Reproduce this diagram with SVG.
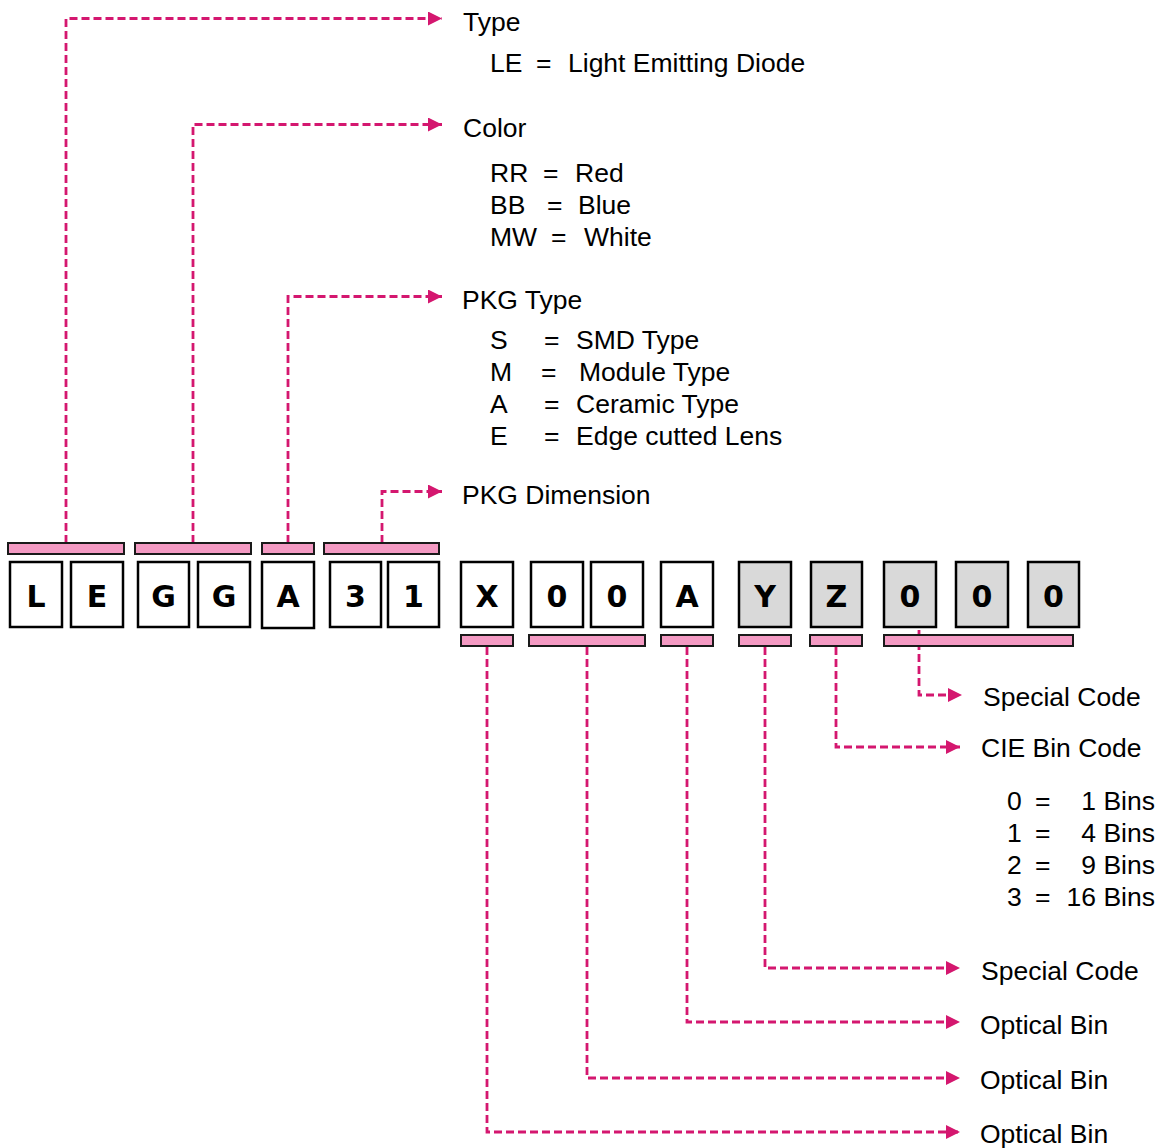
<svg xmlns="http://www.w3.org/2000/svg" width="1165" height="1148" viewBox="0 0 1165 1148">
<defs>
<marker id="ah" markerWidth="14" markerHeight="14" refX="14" refY="7" orient="auto" markerUnits="userSpaceOnUse">
<path d="M0,0 L14,7 L0,14 Z" fill="#d4176f"/>
</marker>
<style>
.box{fill:#ffffff;stroke:#000;stroke-width:2.5}
.gbox{fill:#d9d9d9;stroke:#000;stroke-width:2.5}
.bar{fill:#f49ac3;stroke:#1a1a1a;stroke-width:2}
.ch{font-family:"DejaVu Sans",Verdana,sans-serif;font-weight:bold;font-size:30px;text-anchor:middle;fill:#000}
.lbl{font-family:"Liberation Sans",Arial,sans-serif;font-size:26.5px;fill:#000}
.con{fill:none;stroke:#d4176f;stroke-width:2.8;stroke-dasharray:8,4;marker-end:url(#ah)}
.end{text-anchor:end}
</style>
</defs>
<rect width="1165" height="1148" fill="#fff"/>
<g id="connectors">
<path class="con" d="M66,543 V18.5 H442"/>
<path class="con" d="M193,543 V124.5 H442"/>
<path class="con" d="M288,543 V296.5 H442"/>
<path class="con" d="M382,543 V491.5 H442"/>
<path class="con" d="M487,647 V1132 H960"/>
<path class="con" d="M587,647 V1078 H960"/>
<path class="con" d="M687,647 V1022 H960"/>
<path class="con" d="M765,647 V968 H960"/>
<path class="con" d="M836,647 V747 H960"/>
<path class="con" d="M919,618 V695 H962"/>
</g>
<g id="bars-top">
<rect class="bar" x="8" y="543" width="116" height="11"/>
<rect class="bar" x="135" y="543" width="116" height="11"/>
<rect class="bar" x="262" y="543" width="52" height="11"/>
<rect class="bar" x="324" y="543" width="115" height="11"/>
</g>
<g id="bars-bottom">
<rect class="bar" x="461" y="635" width="52" height="11"/>
<rect class="bar" x="529" y="635" width="116" height="11"/>
<rect class="bar" x="661" y="635" width="52" height="11"/>
<rect class="bar" x="739" y="635" width="52" height="11"/>
<rect class="bar" x="810" y="635" width="52" height="11"/>
<rect class="bar" x="884" y="635" width="189" height="11"/>
</g>
<g id="box-L"><rect class="box" x="10" y="562" width="52" height="65"/><text class="ch" x="36" y="607">L</text></g>
<g id="box-E"><rect class="box" x="71" y="562" width="52" height="65"/><text class="ch" x="97" y="607">E</text></g>
<g id="box-G1"><rect class="box" x="138" y="562" width="51" height="65"/><text class="ch" x="163.5" y="607">G</text></g>
<g id="box-G2"><rect class="box" x="198" y="562" width="52" height="65"/><text class="ch" x="224" y="607">G</text></g>
<g id="box-A1"><rect class="box" x="262" y="562" width="52" height="66"/><text class="ch" x="288" y="607">A</text></g>
<g id="box-3"><rect class="box" x="330" y="562" width="51" height="65"/><text class="ch" x="355.5" y="607">3</text></g>
<g id="box-1"><rect class="box" x="388" y="562" width="51" height="65"/><text class="ch" x="413.5" y="607">1</text></g>
<g id="box-X"><rect class="box" x="461" y="562" width="52" height="65"/><text class="ch" x="487" y="607">X</text></g>
<g id="box-01"><rect class="box" x="531" y="562" width="52" height="65"/><text class="ch" x="557" y="607">0</text></g>
<g id="box-02"><rect class="box" x="591" y="562" width="52" height="65"/><text class="ch" x="617" y="607">0</text></g>
<g id="box-A2"><rect class="box" x="661" y="562" width="52" height="65"/><text class="ch" x="687" y="607">A</text></g>
<g id="box-Y"><rect class="gbox" x="739" y="562" width="52" height="65"/><text class="ch" x="765" y="607">Y</text></g>
<g id="box-Z"><rect class="gbox" x="811" y="562" width="51" height="65"/><text class="ch" x="836.5" y="607">Z</text></g>
<g id="box-03"><rect class="gbox" x="884" y="562" width="52" height="65"/><text class="ch" x="910" y="607">0</text></g>
<g id="box-04"><rect class="gbox" x="956" y="562" width="52" height="65"/><text class="ch" x="982" y="607">0</text></g>
<g id="box-05"><rect class="gbox" x="1028" y="562" width="51" height="65"/><text class="ch" x="1053.5" y="607">0</text></g>
<g id="label-type">
<text class="lbl" x="463" y="31">Type</text>
<text class="lbl" y="72"><tspan x="490">LE</tspan><tspan x="536">=</tspan><tspan x="568">Light Emitting Diode</tspan></text>
</g>
<g id="label-color">
<text class="lbl" x="463" y="137">Color</text>
<text class="lbl" y="182"><tspan x="490">RR</tspan><tspan x="543">=</tspan><tspan x="575">Red</tspan></text>
<text class="lbl" y="214"><tspan x="490">BB</tspan><tspan x="547">=</tspan><tspan x="578">Blue</tspan></text>
<text class="lbl" y="246"><tspan x="490">MW</tspan><tspan x="551">=</tspan><tspan x="584">White</tspan></text>
</g>
<g id="label-pkgtype">
<text class="lbl" x="462" y="309">PKG Type</text>
<text class="lbl" y="349"><tspan x="490">S</tspan><tspan x="544">=</tspan><tspan x="576">SMD Type</tspan></text>
<text class="lbl" y="381"><tspan x="490">M</tspan><tspan x="541">=</tspan><tspan x="579">Module Type</tspan></text>
<text class="lbl" y="413"><tspan x="490">A</tspan><tspan x="544">=</tspan><tspan x="576">Ceramic Type</tspan></text>
<text class="lbl" y="445"><tspan x="490">E</tspan><tspan x="544">=</tspan><tspan x="576">Edge cutted Lens</tspan></text>
</g>
<g id="label-pkgdim">
<text class="lbl" x="462" y="504">PKG Dimension</text>
</g>
<g id="label-special1"><text class="lbl" x="983" y="706">Special Code</text></g>
<g id="label-cie">
<text class="lbl" x="981" y="757">CIE Bin Code</text>
<text class="lbl" y="810"><tspan x="1007">0</tspan><tspan x="1035">=</tspan></text><text class="lbl end" x="1155" y="810">1 Bins</text>
<text class="lbl" y="842"><tspan x="1007">1</tspan><tspan x="1035">=</tspan></text><text class="lbl end" x="1155" y="842">4 Bins</text>
<text class="lbl" y="874"><tspan x="1007">2</tspan><tspan x="1035">=</tspan></text><text class="lbl end" x="1155" y="874">9 Bins</text>
<text class="lbl" y="906"><tspan x="1007">3</tspan><tspan x="1035">=</tspan></text><text class="lbl end" x="1155" y="906">16 Bins</text>
</g>
<g id="label-special2"><text class="lbl" x="981" y="980">Special Code</text></g>
<g id="label-opt1"><text class="lbl" x="980" y="1034">Optical Bin</text></g>
<g id="label-opt2"><text class="lbl" x="980" y="1089">Optical Bin</text></g>
<g id="label-opt3"><text class="lbl" x="980" y="1143">Optical Bin</text></g>
</svg>
